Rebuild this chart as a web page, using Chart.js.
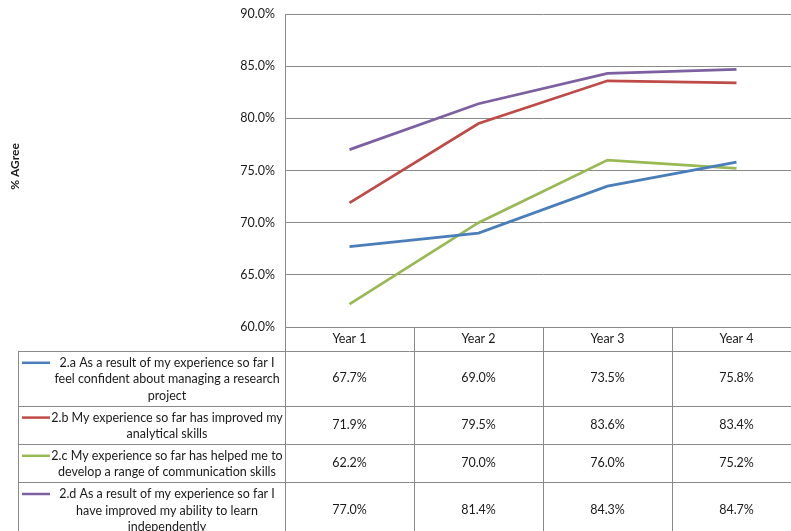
<!DOCTYPE html>
<html>
<head>
<meta charset="utf-8">
<script src="https://cdn.jsdelivr.net/npm/chart.js@4"></script>
<style>
html,body{margin:0;padding:0;background:#fff;overflow:hidden;}
#wrap{width:791px;height:531px;overflow:hidden;position:relative;}
canvas{display:block;}
</style>
</head>
<body>
<div id="wrap"><canvas id="c" width="801" height="531"></canvas></div>
<script>
// Survey categories
const years = ['Year 1', 'Year 2', 'Year 3', 'Year 4'];

// Statement text, one entry per line as it is laid out in the table
const statementLines = [
  ['2.a As a result of my experience so far I', 'feel confident about managing a research', 'project'],
  ['2.b My experience so far has improved my', 'analytical skills'],
  ['2.c My experience so far has helped me to', 'develop a range of communication skills'],
  ['2.d As a result of my experience so far I', 'have improved my ability to learn', 'independently']
];

// % agree per year
const confidentManaging   = [67.7, 69.0, 73.5, 75.8];
const analyticalSkills    = [71.9, 79.5, 83.6, 83.4];
const communicationSkills = [62.2, 70.0, 76.0, 75.2];
const learnIndependently  = [77.0, 81.4, 84.3, 84.7];

// Value axis range
const yMin = 60, yMax = 90, yStep = 5;
const yTitle = '% AGree';

const seriesColors = ['#4a7ebb', '#be4b48', '#98b954', '#7d60a0'];
const seriesValues = [confidentManaging, analyticalSkills, communicationSkills, learnIndependently];

const FONT = 'Lato, "Open Sans", "DejaVu Sans", sans-serif';
const GRID = '#8a8a8a';
const TEXT = '#1a1a1a';

// Draws the axis title and the data table (legend keys + values) under the plot area
const dataTable = {
  id: 'dataTable',
  afterDraw(chart) {
    const { ctx, chartArea } = chart;
    const xs = chart.scales.x;
    const half = (xs.getPixelForValue(1) - xs.getPixelForValue(0)) / 2;
    const px = v => Math.round(v) + 0.5;
    const tableLeft = 18;
    const axisX = chartArea.left;
    const right = chartArea.right;
    const headTop = chartArea.bottom;
    const headBottom = headTop + 24;
    const lineH = 16.6;

    ctx.save();
    // vertical value-axis title
    ctx.fillStyle = TEXT;
    ctx.font = 'bold 12px ' + FONT;
    ctx.textAlign = 'center';
    ctx.textBaseline = 'middle';
    ctx.translate(15, (chartArea.top + chartArea.bottom) / 2 - 4);
    ctx.rotate(-Math.PI / 2);
    ctx.fillText(yTitle, 0, 0);
    ctx.restore();

    const rows = [];
    let y = headBottom;
    chart.data.datasets.forEach(ds => {
      const h = 5 + lineH * ds.lines.length;
      rows.push({ top: y, bottom: y + h });
      y += h;
    });
    const tableBottom = y;

    ctx.save();
    ctx.strokeStyle = GRID;
    ctx.lineWidth = 1;
    ctx.beginPath();
    // vertical rules
    ctx.moveTo(px(tableLeft), headBottom); ctx.lineTo(px(tableLeft), tableBottom);
    ctx.moveTo(px(axisX), headTop); ctx.lineTo(px(axisX), tableBottom);
    years.forEach((_, i) => {
      const xr = xs.getPixelForValue(i) + half;
      ctx.moveTo(px(xr), headTop); ctx.lineTo(px(xr), tableBottom);
    });
    // horizontal rules
    ctx.moveTo(tableLeft, px(headBottom)); ctx.lineTo(right, px(headBottom));
    rows.forEach(r => { ctx.moveTo(tableLeft, px(r.bottom)); ctx.lineTo(right, px(r.bottom)); });
    ctx.stroke();

    ctx.fillStyle = TEXT;
    ctx.textAlign = 'center';
    ctx.textBaseline = 'middle';
    ctx.font = '12.5px ' + FONT;
    // header
    years.forEach((label, i) => {
      ctx.fillText(label, xs.getPixelForValue(i), (headTop + headBottom) / 2);
    });

    chart.data.datasets.forEach((ds, d) => {
      const r = rows[d];
      const mid = (r.top + r.bottom) / 2;
      const n = ds.lines.length;
      const firstY = mid + 1 - (n - 1) * lineH / 2;
      // legend key
      ctx.strokeStyle = ds.borderColor;
      ctx.lineWidth = 2.5;
      ctx.beginPath();
      ctx.moveTo(22, firstY); ctx.lineTo(50, firstY);
      ctx.stroke();
      // statement text
      ctx.fillStyle = TEXT;
      ds.lines.forEach((t, k) => ctx.fillText(t, 167, firstY + k * lineH));
      // values
      ds.data.forEach((v, i) => {
        ctx.fillText(v.toFixed(1) + '%', xs.getPixelForValue(i), mid);
      });
    });
    ctx.restore();
  }
};

new Chart(document.getElementById('c'), {
  type: 'line',
  data: {
    labels: years,
    datasets: seriesValues.map((vals, i) => ({
      label: statementLines[i].join(' '),
      lines: statementLines[i],
      data: vals,
      borderColor: seriesColors[i],
      backgroundColor: seriesColors[i],
      borderWidth: 2.75,
      pointRadius: 0,
      tension: 0,
      fill: false
    }))
  },
  options: {
    responsive: false,
    animation: false,
    devicePixelRatio: 1,
    layout: { padding: { top: 14, right: 0, bottom: 204, left: 0 } },
    plugins: {
      legend: { display: false },
      tooltip: { enabled: false }
    },
    scales: {
      x: {
        type: 'category',
        offset: true,
        display: false
      },
      y: {
        min: yMin,
        max: yMax,
        afterFit(scale) {
          scale.width = 285;
          scale.paddingTop = 0;
          scale.paddingBottom = 0;
        },
        ticks: {
          stepSize: yStep,
          padding: 10,
          color: TEXT,
          font: { family: FONT, size: 12.5 },
          callback: v => v.toFixed(1) + '%'
        },
        grid: { color: GRID, drawTicks: false, lineWidth: 1 },
        border: { display: true, color: GRID }
      }
    }
  },
  plugins: [dataTable]
});
</script>
</body>
</html>
